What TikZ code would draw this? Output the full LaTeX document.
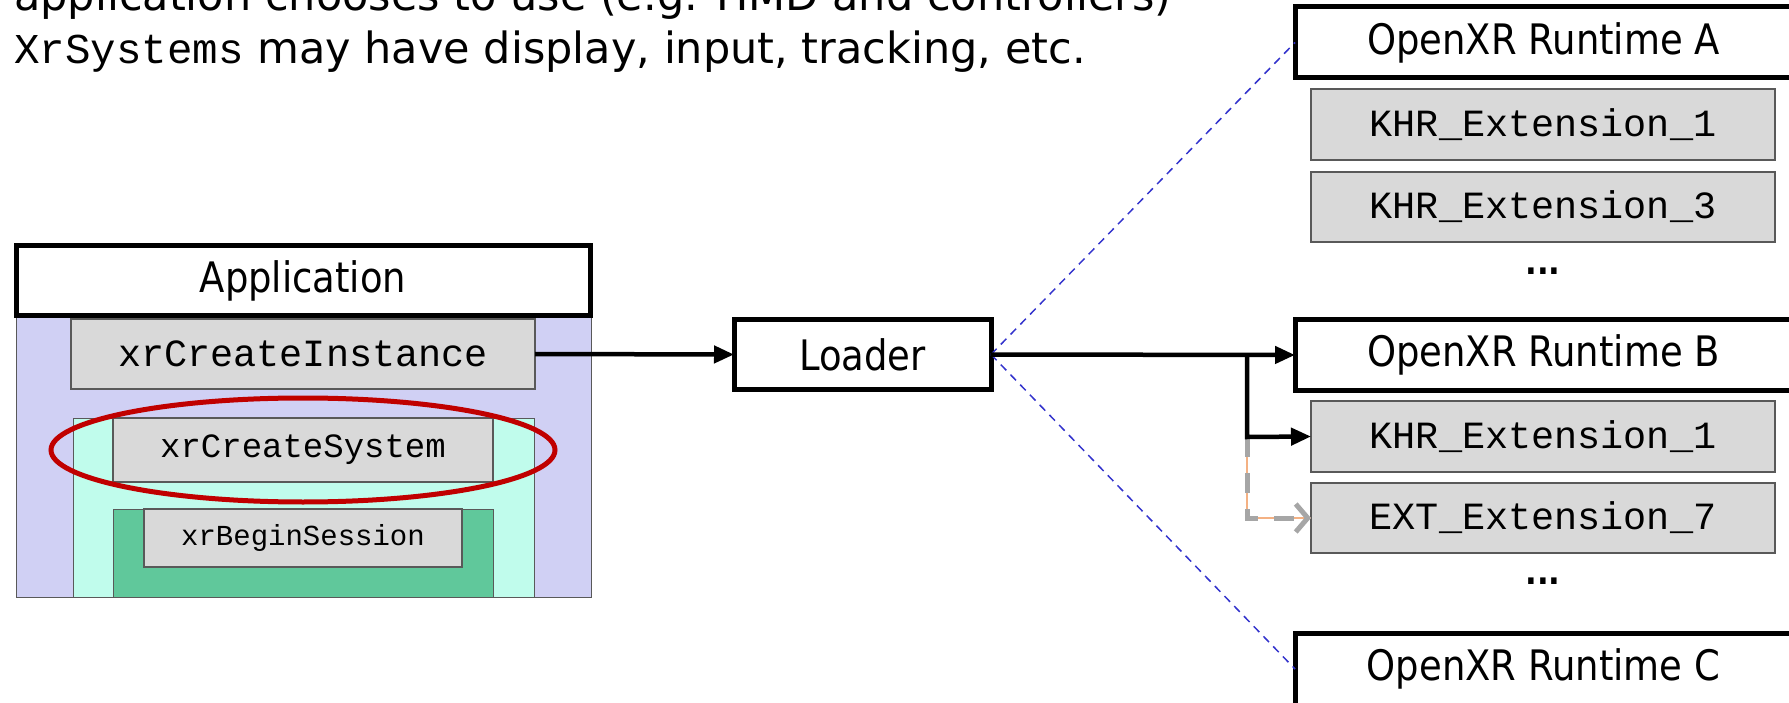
\documentclass[tikz,border=0pt]{standalone}
\usepackage{fontspec}
\setmainfont{DejaVu Sans}[FakeStretch=0.88]
\newfontfamily\widesans{DejaVu Sans}
\setmonofont{Liberation Mono}
\usetikzlibrary{arrows.meta}
\definecolor{lav}{HTML}{D0D0F4}
\definecolor{mint}{HTML}{C0FCEC}
\definecolor{dgreen}{HTML}{60C89B}
\definecolor{boxgray}{HTML}{D9D9D9}
\definecolor{boxline}{HTML}{595959}
\definecolor{ringred}{HTML}{C00000}
\definecolor{dashblue}{HTML}{3333CC}
\definecolor{lorange}{HTML}{F4B183}
\definecolor{dgray}{HTML}{A6A6A6}
\begin{document}
\begin{tikzpicture}[x=1pt,y=-1pt,
  box/.style={draw, inner sep=0pt, outer sep=0pt},
  titlebox/.style={box, line width=5pt, fill=white, font=\fontsize{42}{48}\selectfont},
  fnbox/.style={box, fill=boxgray, draw=boxline, line width=1.5pt},
  bgbox/.style={box, draw=boxline, line width=1pt},
  monoL/.style={font=\ttfamily\fontsize{38.5}{44}\selectfont},
  arr/.style={line width=4.5pt, -{Triangle[length=20pt,width=17pt]}},
  bluedash/.style={draw=dashblue, line width=1.5pt, dash pattern=on 8pt off 6pt},
  graydash/.style={draw=dgray, line width=5pt, dash pattern=on 20pt off 16pt, -{Straight Barb[length=12pt,width=28pt]}},
  orangeline/.style={draw=lorange, line width=1.5pt},
  dots/.style={font=\bfseries\fontsize{35}{40}\selectfont, inner sep=0pt},
  toptext/.style={anchor=base west, inner sep=0pt, font=\widesans\fontsize{43}{48}\selectfont}
]
\useasboundingbox (0,0) rectangle (1789,703);

% top text
\node[toptext] (top1) at (14,11) {application chooses to use (e.g. HMD and controllers)};
\node[toptext] (top2) at (14,64) {{\ttfamily\fontsize{42.5}{48}\selectfont XrSystems} may have display, input, tracking, etc.};

% application stack
\node[bgbox, fill=lav, minimum width=575pt, minimum height=281pt] (lav) at (303.5,456.5) {};
\node[fnbox, monoL, minimum width=464pt, minimum height=70pt] (inst) at (303,354) {xrCreateInstance};
\node[bgbox, fill=mint, minimum width=461pt, minimum height=179pt] (mintb) at (304,507.5) {};
\node[bgbox, fill=dgreen, minimum width=380pt, minimum height=88pt] (green) at (303,553) {};
\node[fnbox, font=\ttfamily\fontsize{34}{40}\selectfont, minimum width=380pt, minimum height=64pt] (sys) at (303,450) {xrCreateSystem};
\node[fnbox, font=\ttfamily\fontsize{29}{34}\selectfont, minimum width=318pt, minimum height=58pt] (sess) at (303,538) {xrBeginSession};
\node[titlebox, minimum width=574pt, minimum height=70pt] (app) at (303,281) {Application};
\draw[draw=ringred, line width=5pt] (303,450) ellipse [x radius=252pt, y radius=52pt];

% loader
\node[titlebox, minimum width=257pt, minimum height=69pt] (loader) at (862.5,354.5) {Loader};

% runtimes
\node[titlebox, minimum width=497pt, minimum height=71pt] (rtA) at (1543.5,42.5) {OpenXR Runtime A};
\node[fnbox, monoL, minimum width=464pt, minimum height=71pt] (a1) at (1543,124.5) {KHR\_Extension\_1};
\node[fnbox, monoL, minimum width=464pt, minimum height=70pt] (a3) at (1543,207) {KHR\_Extension\_3};
\node[dots] (dotsA) at (1543,271) {...};

\node[titlebox, minimum width=497pt, minimum height=70pt] (rtB) at (1543.5,355) {OpenXR Runtime B};
\node[fnbox, monoL, minimum width=464pt, minimum height=71pt] (b1) at (1543,436.5) {KHR\_Extension\_1};
\node[fnbox, monoL, minimum width=464pt, minimum height=70pt] (b7) at (1543,518) {EXT\_Extension\_7};
\node[dots] (dotsB) at (1543,581) {...};

\node[titlebox, minimum width=497pt, minimum height=72pt] (rtC) at (1543.5,669) {OpenXR Runtime C};

% connectors
\draw[arr] (inst.east) -- (loader.west);
\draw[bluedash] (loader.east) -- (rtA.west);
\draw[bluedash] (loader.east) -- (rtC.west);
\coordinate (br1) at (1247,354);
\coordinate (br2) at (1247,437);
\coordinate (br3) at (1247,518);
\draw[arr] (loader.east) -- (rtB.west);
\draw[orangeline] (br2) -- (br3) -- (b7.west);
\draw[graydash] (br2) -- (br3) -- (b7.west);
\draw[arr] (br1) -- (br2) -- (b1.west);
\end{tikzpicture}
\end{document}
